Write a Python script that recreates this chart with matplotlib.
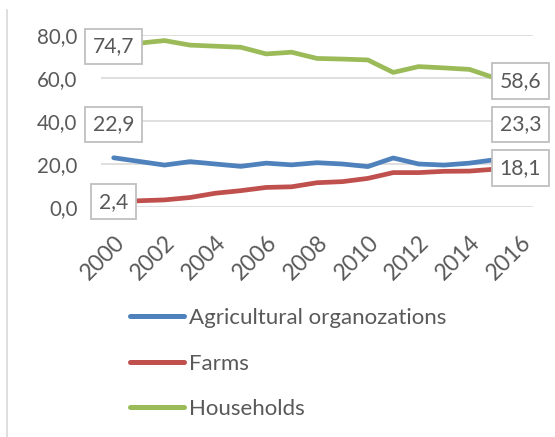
import matplotlib

matplotlib.use("Agg")

import matplotlib.pyplot as plt
from matplotlib.lines import Line2D

years = list(range(2000, 2017))
tick_years = [str(y) if y % 2 == 0 else "" for y in years]

agri_org = [22.9, 21.2, 19.5, 21.1, 20.0, 18.9, 20.4, 19.6, 20.6, 20.0,
            18.8, 22.8, 20.0, 19.5, 20.4, 22.0, 23.3]
farms = [2.4, 2.9, 3.3, 4.4, 6.4, 7.6, 9.1, 9.4, 11.3, 11.8,
         13.3, 16.0, 16.0, 16.6, 16.7, 17.6, 18.1]
households = [74.7, 76.2, 77.4, 75.3, 74.8, 74.3, 71.2, 72.0, 69.1, 68.8,
              68.4, 62.6, 65.3, 64.7, 64.0, 60.0, 58.6]

series_names = ["Agricultural organozations", "Farms", "Households"]
colors = ["#4F81BD", "#C0504D", "#9BBB59"]

TEXT = "#595959"
GRID = "#D9D9D9"
FONT = "Lato"

W, H = 555, 437
fig = plt.figure(figsize=(W / 100, H / 100), dpi=100)
fig.patch.set_facecolor("white")

# plot area in pixels: x 101..533, y 35..207
ax = fig.add_axes([101 / W, 1 - 207 / H, (533 - 101) / W, (207 - 35) / H])

xs = list(range(len(years)))
for vals, c in zip([agri_org, farms, households], colors):
    ax.plot(xs, vals, color=c, lw=3.4, solid_joinstyle="round",
            solid_capstyle="round", zorder=3)

ax.set_xlim(-0.5, len(years) - 0.5)
ax.set_ylim(0, 80)
ax.set_yticks([0, 20, 40, 60, 80])
ax.set_yticklabels([f"{v:.1f}".replace(".", ",") for v in [0, 20, 40, 60, 80]])
ax.set_xticks(xs)
ax.set_xticklabels(tick_years, rotation=45, ha="right", va="top",
                   rotation_mode="anchor")

ax.grid(axis="y", color=GRID, lw=1.2)
ax.set_axisbelow(True)
for s in ["top", "right", "left", "bottom"]:
    ax.spines[s].set_visible(False)
ax.tick_params(axis="both", length=0, colors=TEXT)
ax.tick_params(axis="y", pad=17, labelsize=14.8)
ax.tick_params(axis="x", pad=18, labelsize=16.5)
for lbl in ax.get_xticklabels() + ax.get_yticklabels():
    lbl.set_fontfamily(FONT)

# value labels at the first and last year
box = dict(boxstyle="square,pad=0.36", fc="white", ec="#BFBFBF", lw=1.3)
last = len(years) - 1
for vals in [farms, households]:
    for i in (0, last):
        ax.text(xs[i], vals[i], f"{vals[i]:.1f}".replace(".", ","),
                ha="center", va="center", color=TEXT, fontsize=15.2,
                family=FONT, bbox=box, zorder=5, clip_on=False)
# the organisations labels sit higher, clear of the other lines
for i in (0, last):
    ax.text(xs[i], 38.4, f"{agri_org[i]:.1f}".replace(".", ","),
            ha="center", va="center", color=TEXT, fontsize=15.2,
            family=FONT, bbox=box, zorder=5, clip_on=False)

handles = [Line2D([], [], color=c, lw=3.6, solid_capstyle="round")
           for c in colors]
leg = fig.legend(handles, series_names, loc="upper left",
                 bbox_to_anchor=(130 / W, 1 - 308 / H), frameon=False,
                 handlelength=2.45, handletextpad=0.22, labelspacing=1.15,
                 borderpad=0, borderaxespad=0,
                 prop={"family": FONT, "size": 16})
for t in leg.get_texts():
    t.set_color(TEXT)

# chart border, only its left edge shows
fig.add_artist(Line2D([7 / W, 7 / W], [0, 1 - 10 / H], color=GRID, lw=1.2))

fig.savefig("out.png", dpi=100)
